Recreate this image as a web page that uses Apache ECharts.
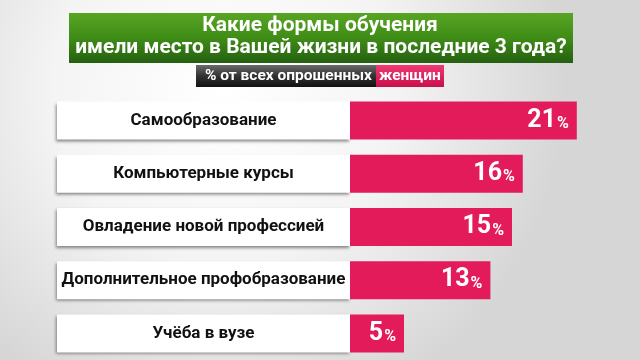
<!DOCTYPE html>
<html>
<head>
<meta charset="utf-8">
<script src="https://cdn.jsdelivr.net/npm/echarts@6/dist/echarts.min.js"></script>
<style>
html,body{margin:0;padding:0;background:#fff;}
#chart{width:640px;height:360px;}
</style>
</head>
<body>
<div id="chart"></div>
<script>
var titleLines = ['Какие формы обучения', 'имели место в Вашей жизни в последние 3 года?'];
var subtitleDark = '% от всех опрошенных';
var subtitlePink = 'женщин';
var categories = ['Самообразование', 'Компьютерные курсы', 'Овладение новой профессией', 'Дополнительное профобразование', 'Учёба в вузе'];
var values = [21, 16, 15, 13, 5];

var FONT = 'Roboto, "Liberation Sans", sans-serif';
var PINK = '#e31b5b';

var chart = echarts.init(document.getElementById('chart'), null, {renderer: 'canvas'});
chart.setOption({
  animation: false,
  backgroundColor: {
    type: 'radial', x: 0.35, y: 0.25, r: 0.95,
    colorStops: [{offset: 0, color: '#ffffff'}, {offset: 0.5, color: '#f4f4f4'}, {offset: 1, color: '#d6d6d6'}]
  },
  graphic: [
    {type: 'rect', shape: {x: 69, y: 13, width: 504, height: 50},
      style: {fill: {type: 'linear', x: 0, y: 0, x2: 0, y2: 1,
        colorStops: [{offset: 0, color: '#58a524'}, {offset: 0.5, color: '#3f8c17'}, {offset: 1, color: '#246010'}]}}},
    {type: 'text', x: 320, y: 26, style: {text: titleLines[0], align: 'center', verticalAlign: 'middle',
      fill: '#ffffff', font: 'bold 21px ' + FONT}},
    {type: 'text', x: 321, y: 48, style: {text: titleLines[1], align: 'center', verticalAlign: 'middle',
      fill: '#ffffff', font: 'bold 21px ' + FONT}},
    {type: 'rect', shape: {x: 196, y: 65, width: 180, height: 22},
      style: {fill: {type: 'linear', x: 0, y: 0, x2: 0, y2: 1,
        colorStops: [{offset: 0, color: '#6a6a6a'}, {offset: 0.5, color: '#333333'}, {offset: 1, color: '#111111'}]}}},
    {type: 'rect', shape: {x: 376, y: 65, width: 68, height: 22},
      style: {fill: {type: 'linear', x: 0, y: 0, x2: 0, y2: 1,
        colorStops: [{offset: 0, color: '#f03a72'}, {offset: 1, color: '#c8104c'}]}}},
    {type: 'text', x: 372, y: 76, style: {text: subtitleDark, align: 'right', verticalAlign: 'middle',
      fill: '#ffffff', font: 'bold 15.5px ' + FONT}},
    {type: 'text', x: 379, y: 76, style: {text: subtitlePink, align: 'left', verticalAlign: 'middle',
      fill: '#ffffff', font: 'bold 15.5px ' + FONT}}
  ],
  grid: {left: 350, right: 20, top: 94, height: 270, containLabel: false},
  xAxis: {type: 'value', min: 0, max: 25, show: false},
  yAxis: {
    type: 'category', data: categories, inverse: true,
    axisLine: {show: false}, axisTick: {show: false}, splitLine: {show: false},
    axisLabel: {
      margin: 0,
      formatter: function (v) { return '{b|' + v + '}'; },
      rich: {
        b: {width: 293, height: 38, align: 'center', verticalAlign: 'middle',
          backgroundColor: '#ffffff', color: '#111111', fontFamily: FONT, fontWeight: 'bold', fontSize: 17,
          shadowColor: 'rgba(0,0,0,0.45)', shadowBlur: 3, shadowOffsetX: -1, shadowOffsetY: 2}
      }
    }
  },
  series: [{
    type: 'bar', data: values, barWidth: 38,
    itemStyle: {color: PINK},
    label: {
      show: true, position: 'insideRight', distance: 8,
      formatter: function (p) { return '{n|' + p.value + '}{p|%}'; },
      rich: {
        n: {color: '#ffffff', fontFamily: FONT, fontWeight: 'bold', fontSize: 25, verticalAlign: 'bottom'},
        p: {color: '#ffffff', fontFamily: FONT, fontWeight: 'bold', fontSize: 16, verticalAlign: 'bottom', padding: [0, 0, 1, 1]}
      }
    }
  }]
});
</script>
</body>
</html>
